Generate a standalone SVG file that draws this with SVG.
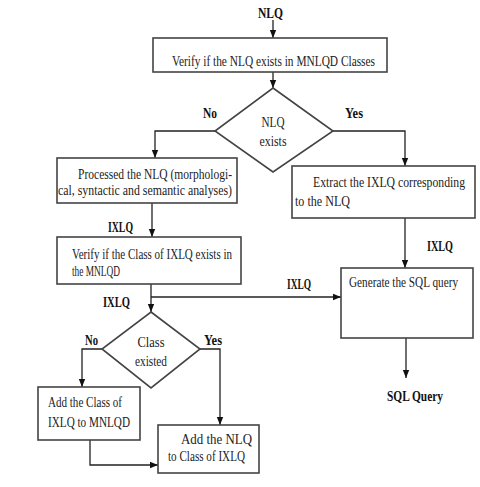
<svg xmlns="http://www.w3.org/2000/svg" width="480" height="487" viewBox="0 0 480 487">
<defs>
<marker id="ah" markerUnits="userSpaceOnUse" markerWidth="8" markerHeight="8" viewBox="0 0 8 8" refX="8" refY="4" orient="auto">
<path d="M0,0.8 L8,4 L0,7.2 Z" fill="#111"/>
</marker>
<style>
.box{fill:#fff;stroke:#444;stroke-width:1.6}
.ln{fill:none;stroke:#222;stroke-width:1.3}
.t{font-family:"Liberation Serif","Times New Roman",serif;font-size:15px;fill:#222}
.b{font-family:"Liberation Serif","Times New Roman",serif;font-size:14px;font-weight:bold;fill:#111}
</style>
</defs>
<rect width="480" height="487" fill="#fff"/>
<g id="connectors">
<line class="ln" x1="273" y1="20" x2="273" y2="38" marker-end="url(#ah)"/>
<line class="ln" x1="273" y1="72" x2="273" y2="88" marker-end="url(#ah)"/>
<polyline class="ln" points="215,131 155,131 155,158" marker-end="url(#ah)"/>
<polyline class="ln" points="333,131 405,131 405,166" marker-end="url(#ah)"/>
<line class="ln" x1="152" y1="203" x2="152" y2="237" marker-end="url(#ah)"/>
<line class="ln" x1="405" y1="218" x2="405" y2="268" marker-end="url(#ah)"/>
<line class="ln" x1="151" y1="284" x2="151" y2="312" marker-end="url(#ah)"/>
<line class="ln" x1="151" y1="297" x2="341" y2="297" marker-end="url(#ah)"/>
<line class="ln" x1="406" y1="338" x2="406" y2="378" marker-end="url(#ah)"/>
<polyline class="ln" points="102,349 82,349 82,387" marker-end="url(#ah)"/>
<polyline class="ln" points="200,349 220,349 220,425" marker-end="url(#ah)"/>
<polyline class="ln" points="90,440 90,465 158,465" marker-end="url(#ah)"/>
<text class="b" x="108" y="232" textLength="25" lengthAdjust="spacingAndGlyphs">IXLQ</text>
<text class="b" x="427" y="251" textLength="26" lengthAdjust="spacingAndGlyphs">IXLQ</text>
<text class="b" x="287" y="289" textLength="24" lengthAdjust="spacingAndGlyphs">IXLQ</text>
<text class="b" x="103" y="307" textLength="27" lengthAdjust="spacingAndGlyphs">IXLQ</text>
<text class="b" x="203" y="118" textLength="14" lengthAdjust="spacingAndGlyphs">No</text>
<text class="b" x="345" y="118" textLength="18" lengthAdjust="spacingAndGlyphs">Yes</text>
<text class="b" x="85" y="345" textLength="13" lengthAdjust="spacingAndGlyphs">No</text>
<text class="b" x="204" y="345" textLength="18" lengthAdjust="spacingAndGlyphs">Yes</text>
</g>
<g id="start">
<text class="b" x="258" y="18" textLength="25" lengthAdjust="spacingAndGlyphs">NLQ</text>
</g>
<g id="verify-nlq">
<rect class="box" x="153" y="38" width="234" height="34"/>
<text class="t" x="172" y="66" textLength="203" lengthAdjust="spacingAndGlyphs">Verify if the NLQ exists in MNLQD Classes</text>
</g>
<g id="nlq-exists">
<polygon class="box" points="273,88 333,131 273,172 215,131"/>
<text class="t" x="273" y="127" text-anchor="middle" textLength="23" lengthAdjust="spacingAndGlyphs">NLQ</text>
<text class="t" x="273" y="146" text-anchor="middle" textLength="27" lengthAdjust="spacingAndGlyphs">exists</text>
</g>
<g id="processed">
<rect class="box" x="57" y="158" width="180" height="45"/>
<text class="t" x="78" y="179" textLength="154" lengthAdjust="spacingAndGlyphs">Processed the NLQ (morphologi-</text>
<text class="t" x="58" y="195" textLength="174" lengthAdjust="spacingAndGlyphs">cal, syntactic and semantic analyses)</text>
</g>
<g id="extract">
<rect class="box" x="292" y="166" width="183" height="52"/>
<text class="t" x="313" y="187" textLength="152" lengthAdjust="spacingAndGlyphs">Extract the IXLQ corresponding</text>
<text class="t" x="295" y="206" textLength="55" lengthAdjust="spacingAndGlyphs">to the NLQ</text>
</g>
<g id="verify-class">
<rect class="box" x="57" y="237" width="184" height="47"/>
<text class="t" x="72" y="259" textLength="160" lengthAdjust="spacingAndGlyphs">Verify if the Class of IXLQ exists in</text>
<text class="t" x="72" y="276" textLength="48" lengthAdjust="spacingAndGlyphs">the MNLQD</text>
</g>
<g id="generate">
<rect class="box" x="341" y="268" width="132" height="70"/>
<text class="t" x="349" y="287" textLength="109" lengthAdjust="spacingAndGlyphs">Generate the SQL query</text>
</g>
<g id="sql-query">
<text class="b" x="387" y="401" textLength="56" lengthAdjust="spacingAndGlyphs">SQL Query</text>
</g>
<g id="class-existed">
<polygon class="box" points="151,312 200,349 151,388 102,349"/>
<text class="t" x="151" y="347" text-anchor="middle" textLength="27" lengthAdjust="spacingAndGlyphs">Class</text>
<text class="t" x="151" y="366" text-anchor="middle" textLength="32" lengthAdjust="spacingAndGlyphs">existed</text>
</g>
<g id="add-class">
<rect class="box" x="38" y="387" width="102" height="53"/>
<text class="t" x="48" y="407" textLength="74" lengthAdjust="spacingAndGlyphs">Add the Class of</text>
<text class="t" x="48" y="427" textLength="82" lengthAdjust="spacingAndGlyphs">IXLQ to MNLQD</text>
</g>
<g id="add-nlq">
<rect class="box" x="158" y="425" width="101" height="48"/>
<text class="t" x="181" y="444" textLength="71" lengthAdjust="spacingAndGlyphs">Add the NLQ</text>
<text class="t" x="168" y="461" textLength="77" lengthAdjust="spacingAndGlyphs">to Class of IXLQ</text>
</g>
</svg>
